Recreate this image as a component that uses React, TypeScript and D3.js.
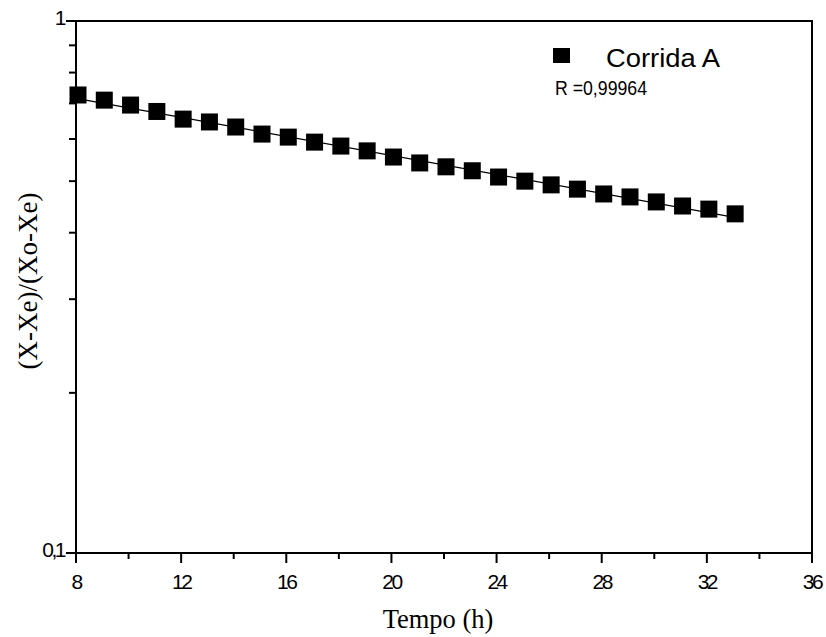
import React from "react";
import * as d3 from "d3";

const timeH = [8, 9, 10, 11, 12, 13, 14, 15, 16, 17, 18, 19, 20, 21, 22, 23, 24, 25, 26, 27, 28, 29, 30, 31, 32, 33];
const ratio = [0.726, 0.71, 0.695, 0.676, 0.654, 0.646, 0.632, 0.613, 0.605, 0.592, 0.582, 0.57, 0.555, 0.541, 0.532, 0.523, 0.509, 0.5, 0.492, 0.483, 0.473, 0.467, 0.457, 0.449, 0.443, 0.434];
const xTicks = [8, 12, 16, 20, 24, 28, 32, 36];
const xMinor = [10, 14, 18, 22, 26, 30, 34];
const yMinor = [0.2, 0.3, 0.4, 0.5, 0.6, 0.7, 0.8, 0.9];
const yLabels = [
  { v: 1, t: "1" },
  { v: 0.1, t: "0,1" },
];
const seriesName = "Corrida A";
const rText = "R =0,99964";

export default function App() {
  const W = 826, H = 637;
  const L = 76, R = 812, T = 21, B = 553;
  const x = d3.scaleLinear().domain([8, 36]).range([L, R]);
  const y = d3.scaleLog().domain([0.1, 1]).range([B, T]);

  // least-squares fit in log space for the regression line
  const n = timeH.length;
  const ly = ratio.map((v) => Math.log10(v));
  const mx = d3.mean(timeH)!;
  const my = d3.mean(ly)!;
  let sxy = 0, sxx = 0;
  for (let i = 0; i < n; i++) {
    sxy += (timeH[i] - mx) * (ly[i] - my);
    sxx += (timeH[i] - mx) ** 2;
  }
  const slope = sxy / sxx;
  const icpt = my - slope * mx;
  const fit = (t: number) => Math.pow(10, icpt + slope * t);
  const x0 = timeH[0], x1 = timeH[n - 1];
  const line = d3.line<number>().x((t) => x(t)).y((t) => y(fit(t)));

  const ms = 17;
  const sans = "Arial, 'Liberation Sans', sans-serif";
  const serif = "'Times New Roman', 'Liberation Serif', serif";

  return (
    <svg width={W} height={H} style={{ position: "absolute", left: 0, top: 0, background: "#fff" }}>
      <rect x={0} y={0} width={W} height={H} fill="#fff" />
      {/* frame */}
      <rect x={L} y={T} width={R - L} height={B - T} fill="none" stroke="#000" strokeWidth={2} />
      {/* x ticks */}
      {xTicks.map((t) => (
        <g key={"xt" + t}>
          <line x1={x(t)} x2={x(t)} y1={B} y2={B + 10} stroke="#000" strokeWidth={2} />
          <text x={x(t)} y={589} textAnchor="middle" fontFamily={sans} fontSize={21} letterSpacing={-2.5}>
            {t}
          </text>
        </g>
      ))}
      {xMinor.map((t) => (
        <line key={"xm" + t} x1={x(t)} x2={x(t)} y1={B} y2={B + 6} stroke="#000" strokeWidth={2} />
      ))}
      {/* y ticks */}
      {yMinor.map((v) => (
        <line key={"ym" + v} x1={L - 7} x2={L} y1={y(v)} y2={y(v)} stroke="#000" strokeWidth={2} />
      ))}
      {yLabels.map((d) => (
        <g key={"yl" + d.t}>
          <line x1={L - 10} x2={L} y1={y(d.v)} y2={y(d.v)} stroke="#000" strokeWidth={2} />
          <text x={L - 12} y={y(d.v) + 4} textAnchor="end" fontFamily={sans} fontSize={21} letterSpacing={-2.5}>
            {d.t}
          </text>
        </g>
      ))}
      {/* regression line */}
      <path d={line([x0, x1]) || ""} fill="none" stroke="#000" strokeWidth={1.2} />
      {/* markers */}
      {timeH.map((t, i) => (
        <rect key={"p" + i} x={x(t) - ms / 2 + 2} y={y(ratio[i]) - ms / 2} width={ms} height={ms} fill="#000" />
      ))}
      {/* legend */}
      <rect x={553} y={48} width={17} height={15} fill="#000" />
      <text x={606} y={67} fontFamily={sans} fontSize={25} textLength={114} lengthAdjust="spacingAndGlyphs">
        {seriesName}
      </text>
      <text x={555} y={95} fontFamily={sans} fontSize={21} textLength={92} lengthAdjust="spacingAndGlyphs">
        {rText}
      </text>
      {/* axis titles */}
      <text x={438} y={628} textAnchor="middle" fontFamily={serif} fontSize={26.5}>
        Tempo (h)
      </text>
      <text transform={`translate(37,281) rotate(-90)`} textAnchor="middle" fontFamily={serif} fontSize={27}>
        (X-Xe)/(Xo-Xe)
      </text>
    </svg>
  );
}
